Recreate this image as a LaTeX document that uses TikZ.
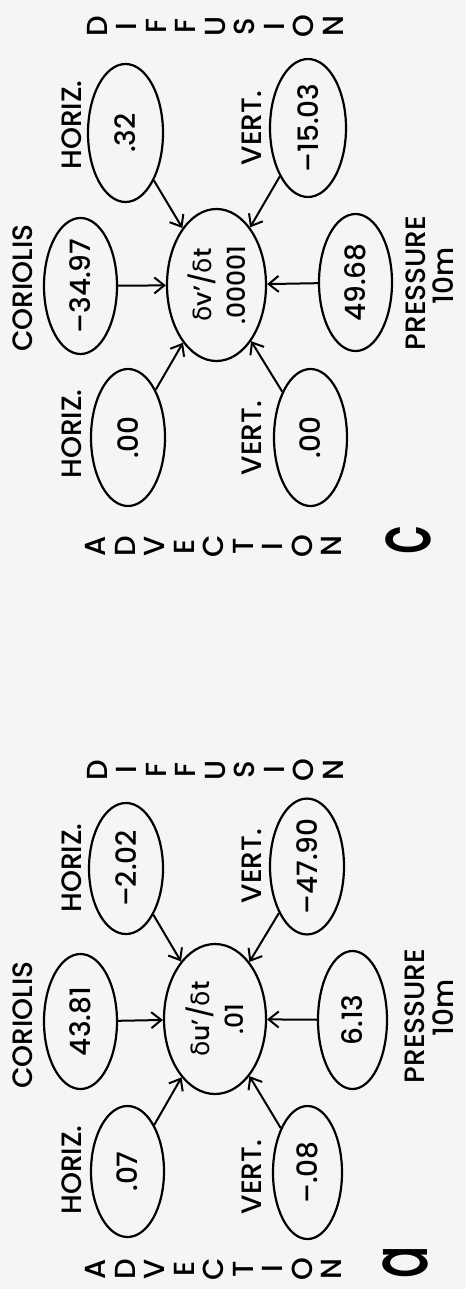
\documentclass[tikz,border=0pt]{standalone}
\usepackage{fontspec}
\setmainfont{Poppins}
\newfontfamily\lettering{Poppins Medium}
\newfontfamily\grk{DejaVu Sans}
\usetikzlibrary{shapes.geometric,arrows.meta}
\begin{document}
\begin{tikzpicture}[x=1pt,y=-1pt,
  term/.style={ellipse, draw, line width=2.2pt, inner sep=0pt, rotate=90,
    font=\lettering\fontsize{28}{28}\selectfont},
  hub/.style={ellipse, draw, line width=2.2pt, inner sep=0pt, rotate=90,
    align=center, font=\lettering\fontsize{25}{34}\selectfont},
  lbl/.style={rotate=90, inner sep=0pt, font=\lettering\fontsize{28}{28}\selectfont},
  stack/.style={rotate=90, inner sep=0pt, align=center,
    font=\lettering\fontsize{29}{29.5}\selectfont},
  tag/.style={rotate=90, xscale=0.6, inner sep=0pt,
    font=\lettering\fontsize{80}{80}\selectfont},
  flow/.style={line width=2pt, -{Straight Barb[length=10pt,width=16pt]}},
]
\fill[white!96!black] (0,0) rectangle (466,1289);

% ---------- panel c ----------
\node[stack] (c-diff) at (215,26.5) {D\\I\\F\\F\\U\\S\\I\\O\\N};
\node[term, minimum width=138, minimum height=75] (c-hd) at (125.5,133) {.32};
\node[term, minimum width=138, minimum height=76] (c-vd) at (308,128) {–15.03};
\node[hub, minimum width=152, minimum height=99] (c-hub) at (216.5,285)
  {{\grk δ}v’/{\grk δ}t\\.00001};
\node[term, minimum width=136, minimum height=73] (c-cor) at (80.5,286) {–34.97};
\node[term, minimum width=137, minimum height=73] (c-pr) at (355.5,282.5) {49.68};
\node[term, minimum width=137, minimum height=74] (c-ha) at (128,437.5) {.00};
\node[term, minimum width=137, minimum height=73] (c-va) at (310.5,437.5) {.00};
\node[lbl] (c-hd-l) at (72,125) {HORIZ.};
\node[lbl] (c-vd-l) at (252,128) {VERT.};
\node[lbl] (c-cor-l) at (23,288) {CORIOLIS};
\node[lbl] (c-pr-l) at (416,283) {PRESSURE};
\node[lbl] (c-pr-u) at (443,276) {10m};
\node[lbl] (c-ha-l) at (72,434) {HORIZ.};
\node[lbl] (c-va-l) at (252,438) {VERT.};
\node[stack] (c-adv) at (213.5,546.5) {A\\D\\V\\E\\C\\T\\I\\O\\N};
\node[tag] (c-tag) at (408,540) {c};

\draw[flow] (c-hd) -- (c-hub);
\draw[flow] (c-vd) -- (c-hub);
\draw[flow] (c-cor) -- (c-hub);
\draw[flow] (c-pr) -- (c-hub);
\draw[flow] (c-ha) -- (c-hub);
\draw[flow] (c-va) -- (c-hub);

% ---------- panel a ----------
\node[stack] (a-diff) at (215,770) {D\\I\\F\\F\\U\\S\\I\\O\\N};
\node[term, minimum width=131, minimum height=74] (a-hd) at (126,868.5) {–2.02};
\node[term, minimum width=135, minimum height=74] (a-vd) at (307,866.5) {–47.90};
\node[hub, minimum width=150, minimum height=102] (a-hub) at (215,1019)
  {{\grk δ}u’/{\grk δ}t\\.01};
\node[term, minimum width=135, minimum height=73] (a-cor) at (80.5,1021.5) {43.81};
\node[term, minimum width=138, minimum height=69] (a-pr) at (352.5,1020) {6.13};
\node[term, minimum width=131, minimum height=73] (a-ha) at (127.5,1171.5) {.07};
\node[term, minimum width=133, minimum height=69] (a-va) at (307.5,1172.5) {–.08};
\node[lbl] (a-hd-l) at (72,868) {HORIZ.};
\node[lbl] (a-vd-l) at (252,866) {VERT.};
\node[lbl] (a-cor-l) at (23,1025) {CORIOLIS};
\node[lbl] (a-pr-l) at (415,1016) {PRESSURE};
\node[lbl] (a-pr-u) at (443,1008) {10m};
\node[lbl] (a-ha-l) at (72,1170) {HORIZ.};
\node[lbl] (a-va-l) at (252,1177) {VERT.};
\node[stack] (a-adv) at (213.5,1269) {A\\D\\V\\E\\C\\T\\I\\O\\N};
\node[tag] (a-tag) at (405,1262) {a};

\draw[flow] (a-hd) -- (a-hub);
\draw[flow] (a-vd) -- (a-hub);
\draw[flow] (a-cor) -- (a-hub);
\draw[flow] (a-pr) -- (a-hub);
\draw[flow] (a-ha) -- (a-hub);
\draw[flow] (a-va) -- (a-hub);
\end{tikzpicture}
\end{document}
